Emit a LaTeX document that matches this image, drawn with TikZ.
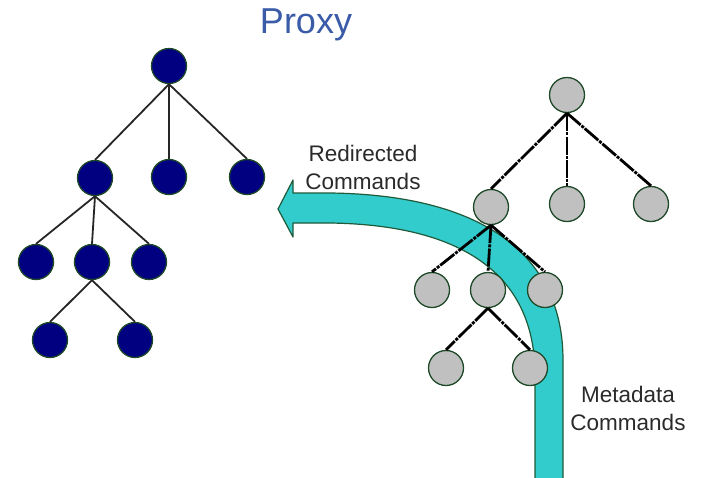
\documentclass[tikz,border=0pt]{standalone}
\usepackage{fontspec}
\setmainfont{Liberation Sans}
\begin{document}
\begin{tikzpicture}[x=1pt,y=-1pt,
  proxynode/.style={circle,minimum size=35pt,inner sep=0pt,fill=navyfill,draw=nodeedge,line width=1.3pt},
  metanode/.style={circle,minimum size=35pt,inner sep=0pt,fill=grayfill,draw=nodeedge,line width=1.3pt},
  proxyedge/.style={draw=black!85,line width=1.8pt},
  metaedge/.style={draw=black,line width=2.8pt,dash pattern=on 18pt off 1.2pt on 3pt off 1.2pt},
  label/.style={font=\fontsize{22.5}{28}\selectfont,text=textgray,align=center,inner sep=0pt}]
\definecolor{navyfill}{HTML}{000080}
\definecolor{grayfill}{HTML}{C0C0C0}
\definecolor{nodeedge}{HTML}{1F4A2A}
\definecolor{bandfill}{HTML}{33CCCC}
\definecolor{bandedge}{HTML}{1F5A3A}
\definecolor{titleblue}{HTML}{3A5BA8}
\definecolor{textgray}{HTML}{2A2A2A}
\useasboundingbox (0,0) rectangle (701,477);

% title
\node[font=\fontsize{36}{40}\selectfont,text=titleblue,inner sep=0pt] (title) at (306,25) {Proxy};

% curved band carrying the commands
\draw[fill=bandfill,draw=bandedge,line width=1.2pt,line join=round]
  (563,480) -- (563,360) .. controls (563,260) and (490,195) .. (330,193)
  -- (293,193) -- (293,180) -- (278,209) -- (293,237) -- (293,223) -- (330,223)
  .. controls (470,225) and (535,280) .. (535,375) -- (535,480) -- cycle;

% left tree (proxy)
\node[proxynode] (p1) at (169,66) {};
\node[proxynode] (p2) at (95,178) {};
\node[proxynode] (p3) at (169,177) {};
\node[proxynode] (p4) at (247,177) {};
\node[proxynode] (p5) at (36,262) {};
\node[proxynode] (p6) at (92,262) {};
\node[proxynode] (p7) at (149,262) {};
\node[proxynode] (p8) at (50,340) {};
\node[proxynode] (p9) at (135,340) {};
\foreach \a/\b in {p1/p2,p1/p3,p1/p4,p2/p5,p2/p6,p2/p7,p6/p8,p6/p9}
  \draw[proxyedge] (\a.south) -- (\b.north);

% right tree (metadata)
\node[metanode] (m1) at (567,95) {};
\node[metanode] (m2) at (491,207) {};
\node[metanode] (m3) at (567,204) {};
\node[metanode] (m4) at (651,204) {};
\node[metanode] (m5) at (432,290) {};
\node[metanode] (m6) at (488,290) {};
\node[metanode] (m7) at (545,290) {};
\node[metanode] (m8) at (446,368) {};
\node[metanode] (m9) at (530,368) {};
\foreach \a/\b in {m1/m2,m1/m3,m1/m4,m2/m5,m2/m6,m2/m7,m6/m8,m6/m9}
  \draw[metaedge] (\a.south) -- (\b.north);

% labels
\node[label] (redir) at (363,167) {Redirected\\Commands};
\node[label] (meta) at (628,408) {Metadata\\Commands};
\end{tikzpicture}
\end{document}
